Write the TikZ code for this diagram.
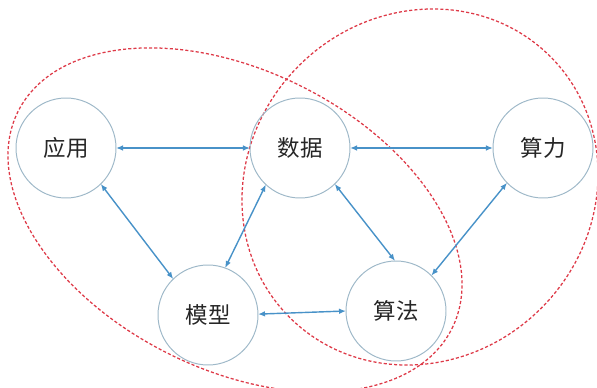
\documentclass[tikz,border=0pt]{standalone}
\usepackage{fontspec}
\usepackage{tikz}
\usetikzlibrary{arrows.meta}
\newfontfamily\cjk{Noto Sans CJK SC}
\definecolor{ringgray}{RGB}{158,184,200}
\definecolor{linkblue}{RGB}{72,146,200}
\definecolor{dashred}{RGB}{222,58,72}
\tikzstyle{topic}=[circle, draw=ringgray, line width=0.7pt, minimum size=2.5cm, inner sep=0pt, outer sep=0pt, font=\cjk\fontsize{16}{18}\selectfont, text=black!85]
\tikzstyle{link}=[{Latex[length=5pt,width=4pt]}-{Latex[length=5pt,width=4pt]}, color=linkblue, line width=1pt]
\tikzstyle{group}=[dashed, dash pattern=on 2.2pt off 1.5pt, color=dashred, line width=0.9pt]

\begin{document}
\begin{tikzpicture}[scale=.25]
    \useasboundingbox (0,0) rectangle (59.7,38.8);
    % the two dashed groups
    \draw[group, rotate around={-26.6:(23.5,16.8)}] (23.5,16.8) ellipse (24.26 and 14.93);
    \draw[group, rotate around={45:(42,20.1)}] (42,20.1) ellipse (18.44 and 17.14);

    % the five topics
    \node[topic] (app) at (6.6,24) {应用};
    \node[topic] (data) at (30,24) {数据};
    \node[topic] (power) at (54.3,24) {算力};
    \node[topic] (model) at (20.8,7.3) {模型};
    \node[topic] (algo) at (39.6,7.7) {算法};

    % links between them
    \draw[link] (app) -- (data);
    \draw[link] (data) -- (power);
    \draw[link] (app.-46) -- (model.134);
    \draw[link] (data.-133) -- (model.70);
    \draw[link] (data.-46) -- (algo.91);
    \draw[link] (power.-136) -- (algo.45);
    \draw[link] (model.1) -- (algo.180);
\end{tikzpicture}
\end{document}
